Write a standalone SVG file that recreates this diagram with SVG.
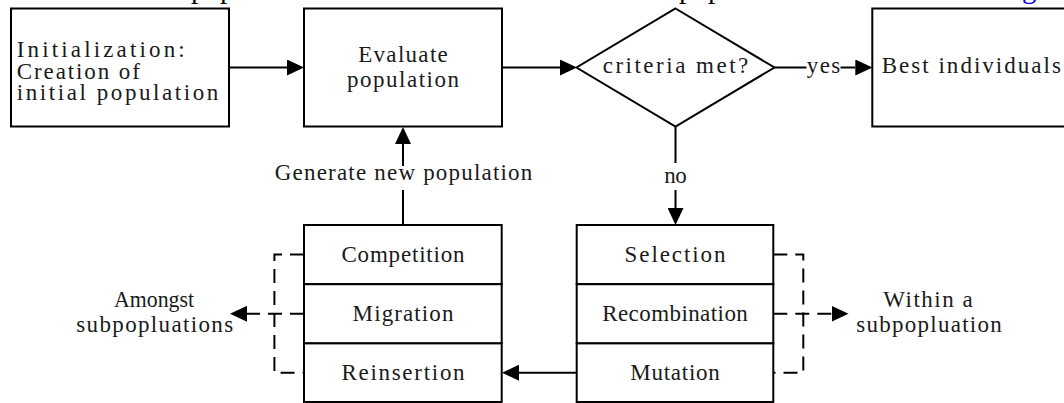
<svg xmlns="http://www.w3.org/2000/svg" width="1064" height="403" viewBox="0 0 1064 403">
  <style>
    .box { fill: #ffffff; stroke: #000000; stroke-width: 2; }
    .line { fill: none; stroke: #000000; stroke-width: 2; }
    .dash { fill: none; stroke: #000000; stroke-width: 2; stroke-dasharray: 14 8; }
    .t { font-family: "Liberation Serif", "Times New Roman", serif; font-size: 23px; fill: #1a1a1a; }
    .c { text-anchor: middle; }
    .cap { font-family: "Liberation Serif", "Times New Roman", serif; font-size: 29px; fill: #000000; }
    .link { fill: #0000ee; }
  </style>
  <defs>
    <marker id="head" viewBox="0 -8 17 16" refX="0" refY="0" markerWidth="17" markerHeight="16" markerUnits="userSpaceOnUse" orient="auto">
      <path d="M0,-8 L17,0 L0,8 z" fill="#000000"/>
    </marker>
  </defs>

  <!-- caption line above the figure, clipped by the frame -->
  <g id="caption">
    <text class="cap" x="191" y="-2.3">pop</text>
    <text class="cap" x="679" y="-2.3">pop</text>
    <text class="cap link" x="1022" y="-2.3">g</text>
  </g>

  <g id="init">
    <rect class="box" x="11" y="8.5" width="218" height="118"/>
    <text class="t" x="16.7" y="57" textLength="168" lengthAdjust="spacing">Initialization:</text>
    <text class="t" x="16.7" y="78.5" textLength="123.2" lengthAdjust="spacing">Creation of</text>
    <text class="t" x="16.7" y="100" textLength="201.6" lengthAdjust="spacing">initial population</text>
  </g>

  <g id="evaluate">
    <rect class="box" x="304" y="8.5" width="198" height="118"/>
    <text class="t c" x="403" y="61.5" textLength="89.6" lengthAdjust="spacing">Evaluate</text>
    <text class="t c" x="403" y="87" textLength="112" lengthAdjust="spacing">population</text>
  </g>

  <g id="criteria">
    <polygon class="box" points="675.5,8.5 774.5,67.5 675.5,126.5 576.5,67.5"/>
    <text class="t c" x="675.5" y="73.3" textLength="145.6" lengthAdjust="spacing">criteria met?</text>
  </g>

  <g id="best">
    <rect class="box" x="872.3" y="8.5" width="210" height="118"/>
    <text class="t" x="881.7" y="73.3" textLength="179.2" lengthAdjust="spacing">Best individuals</text>
  </g>

  <g id="breed">
    <rect class="box" x="576.7" y="225" width="196.6" height="59.2"/>
    <rect class="box" x="576.7" y="284.2" width="196.6" height="59.2"/>
    <rect class="box" x="576.7" y="343.4" width="196.6" height="58.6"/>
    <text class="t c" x="675" y="261.7" textLength="100.8" lengthAdjust="spacing">Selection</text>
    <text class="t c" x="675" y="320.8" textLength="145.6" lengthAdjust="spacing">Recombination</text>
    <text class="t c" x="675" y="380" textLength="89.6" lengthAdjust="spacing">Mutation</text>
  </g>

  <g id="regroup">
    <rect class="box" x="304" y="225" width="197.7" height="59.2"/>
    <rect class="box" x="304" y="284.2" width="197.7" height="59.2"/>
    <rect class="box" x="304" y="343.4" width="197.7" height="58.6"/>
    <text class="t c" x="403" y="261.7" textLength="123.2" lengthAdjust="spacing">Competition</text>
    <text class="t c" x="403" y="320.8" textLength="100.8" lengthAdjust="spacing">Migration</text>
    <text class="t c" x="403" y="380" textLength="123.2" lengthAdjust="spacing">Reinsertion</text>
  </g>

  <g id="within">
    <text class="t c" x="928" y="306.7" textLength="89.6" lengthAdjust="spacing">Within a</text>
    <text class="t c" x="929" y="331.7" textLength="145.6" lengthAdjust="spacing">subpopluation</text>
  </g>

  <g id="amongst">
    <text class="t c" x="154" y="306.7" textLength="80" lengthAdjust="spacingAndGlyphs">Amongst</text>
    <text class="t c" x="154.7" y="331.7" textLength="156.8" lengthAdjust="spacing">subpopluations</text>
  </g>

  <g id="connectors">
    <!-- top row -->
    <path class="line" d="M229,67.5 H287" marker-end="url(#head)"/>
    <path class="line" d="M502,67.5 H560" marker-end="url(#head)"/>
    <path class="line" d="M774.5,67.5 H806.5"/>
    <text class="t c" x="823.5" y="73.3" textLength="33.6" lengthAdjust="spacing">yes</text>
    <path class="line" d="M840.5,67.5 H855.3" marker-end="url(#head)"/>
    <!-- no branch -->
    <path class="line" d="M675.5,126.5 V163"/>
    <text class="t c" x="675.5" y="182.7" textLength="22.4" lengthAdjust="spacing">no</text>
    <path class="line" d="M675.5,190 V208" marker-end="url(#head)"/>
    <!-- back to the regroup stack -->
    <path class="line" d="M576.7,372.7 H519" marker-end="url(#head)"/>
    <!-- loop back to evaluation -->
    <path class="line" d="M403,225 V190"/>
    <text class="t c" x="403.5" y="180" textLength="257.6" lengthAdjust="spacing">Generate new population</text>
    <path class="line" d="M403,166 V144" marker-end="url(#head)"/>
    <!-- dashed brackets -->
    <path class="dash" d="M773.3,254.5 H803.3 V372.7 H773.3"/>
    <path class="dash" d="M773.3,313.8 H831.5" marker-end="url(#head)"/>
    <path class="dash" d="M304,254.5 H274.4 V372.7 H304"/>
    <path class="dash" d="M304,313.8 H247" marker-end="url(#head)"/>
  </g>
</svg>
